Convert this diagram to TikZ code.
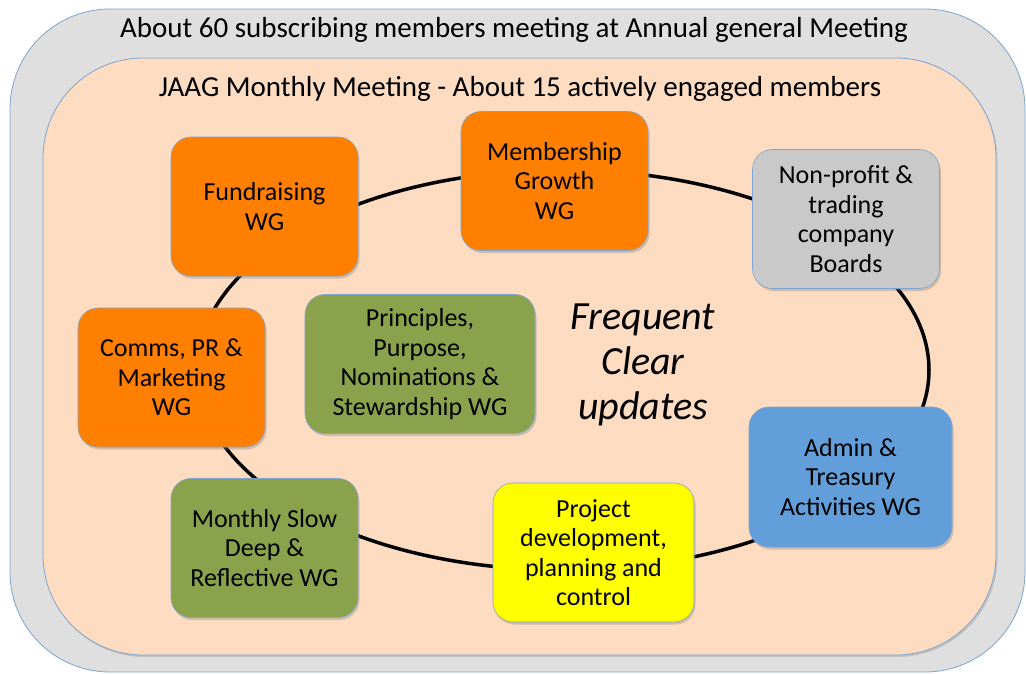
\documentclass[tikz,border=0pt]{standalone}
\usepackage{fontspec}
\setmainfont{Carlito}
\usetikzlibrary{shadows}

\definecolor{agmgray}{HTML}{DFDFDF}
\definecolor{rimblue}{HTML}{7DA3CF}
\definecolor{peach}{HTML}{FDDCC2}
\definecolor{wgorange}{HTML}{FF8000}
\definecolor{wggray}{HTML}{C9C9C9}
\definecolor{wggreen}{HTML}{8AA24B}
\definecolor{wgblue}{HTML}{629FDA}
\definecolor{wgyellow}{HTML}{FFFF00}

\tikzset{
  wgbox/.style={draw=rimblue, line width=0.6pt, rounded corners=20pt,
    align=center, inner sep=0pt, minimum width=187pt, minimum height=139pt,
    font=\fontsize{26}{29.5}\selectfont,
    drop shadow={opacity=0.35, shadow xshift=1.5pt, shadow yshift=-2.5pt}},
  titletext/.style={font=\fontsize{29}{32}\selectfont, inner sep=0pt}
}

\begin{document}
\begin{tikzpicture}[x=1pt, y=-1pt]
    \useasboundingbox (0,0) rectangle (1026,673);

    % Meeting boxes
    \draw[draw=rimblue, line width=0.8pt, fill=agmgray, rounded corners=100pt]
    (10,9) rectangle (1025,672);
    \draw[draw=rimblue, line width=0.8pt, fill=peach, rounded corners=100pt,
    drop shadow={opacity=0.3, shadow xshift=1.5pt, shadow yshift=-2pt}]
    (43,58) rectangle (996,655);

    \node[titletext] (agmtitle) at (514,30)
    {About 60 subscribing members meeting at Annual general Meeting};
    \node[titletext] (jaagtitle) at (520,89)
    {JAAG Monthly Meeting - About 15 actively engaged members};

    % Ring
    \draw[line width=3.5pt] (563,370) ellipse [x radius=366pt, y radius=200pt];

    % Working groups
    \node[wgbox, fill=wgorange] (fund) at (264.5,206.5) {Fundraising\\WG};
    \node[wgbox, fill=wgorange] (member) at (554.5,181) {Membership\\Growth\\WG};
    \node[wgbox, fill=wggray] (boards) at (846,219)
    {Non-profit \&\\trading\\company\\Boards};
    \node[wgbox, fill=wgorange] (comms) at (171.5,377.5)
    {Comms, PR \&\\Marketing\\WG};
    \node[wgbox, fill=wggreen, minimum width=230pt] (principles) at (420,364)
    {Principles,\\Purpose,\\Nominations \&\\Stewardship WG};
    \node[wgbox, fill=wgblue, minimum width=203pt, minimum height=140pt] (admin)
    at (850.5,477) {Admin \&\\Treasury\\Activities WG};
    \node[wgbox, fill=wgyellow, minimum width=201pt] (project) at (593.5,552.5)
    {Project\\development,\\planning and\\control};
    \node[wgbox, fill=wggreen] (monthly) at (264.5,548)
    {Monthly Slow\\Deep \&\\Reflective WG};

    % Text
    \node[align=center, font=\fontsize{40}{45}\selectfont\itshape] (updates)
    at (643,365) {Frequent\\Clear\\updates};

\end{tikzpicture}
\end{document}
